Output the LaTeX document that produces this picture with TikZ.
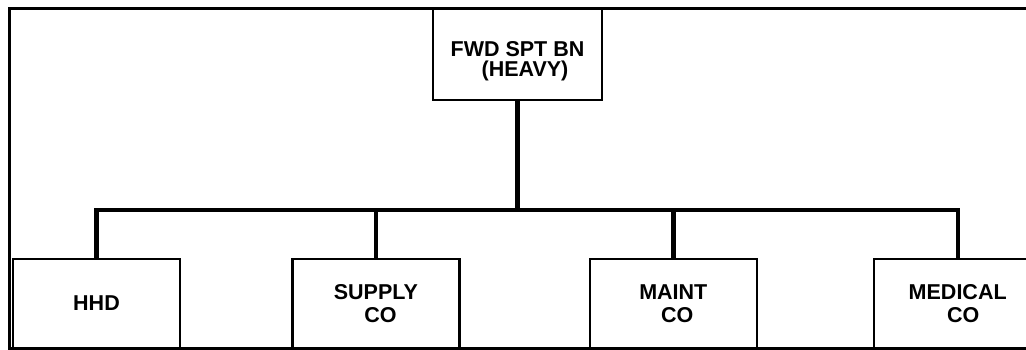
\documentclass[tikz,border=0pt]{standalone}
\usepackage{fontspec}
\setmainfont{Liberation Sans}
\usetikzlibrary{positioning}

\begin{document}
\begin{tikzpicture}[x=1pt,y=-1pt,
    unit/.style={draw,line width=2.4pt,minimum width=167pt,minimum height=89pt,inner sep=0pt,align=center,font=\fontsize{21.5}{23}\selectfont\bfseries},
    link/.style={line width=4.4pt}]
  \clip (0,0) rectangle (1026,350);
  % outer frame (right side runs off the page)
  \draw[line width=3pt] (1040,9) -| (9.5,348) -- (1040,348);
  \node[unit,minimum width=169pt,minimum height=91pt,text height=50pt,text depth=5pt,font=\fontsize{21.5}{20}\selectfont\bfseries] (fsb) at (517.5,54.5) {FWD SPT BN\\\hspace*{15pt}(HEAVY)};
  \node[unit] (hhd) at (96.5,303.5) {HHD};
  \node[unit,right=110pt of hhd] (supply) {SUPPLY\\\hspace*{9pt}CO};
  \node[unit,right=128pt of supply] (maint) {MAINT\\\hspace*{8pt}CO};
  \node[unit,right=115pt of maint] (medical) {MEDICAL\\\hspace*{11pt}CO};
  \coordinate (bus) at (0,210);
  \draw[link] (fsb.south) -- (fsb.south |- bus);
  \draw[link] (hhd.north) -- (hhd.north |- bus) -- (medical.north |- bus) -- (medical.north);
  \foreach \u in {supply,maint}{\draw[link] (\u.north) -- (\u.north |- bus);}
\end{tikzpicture}
\end{document}
